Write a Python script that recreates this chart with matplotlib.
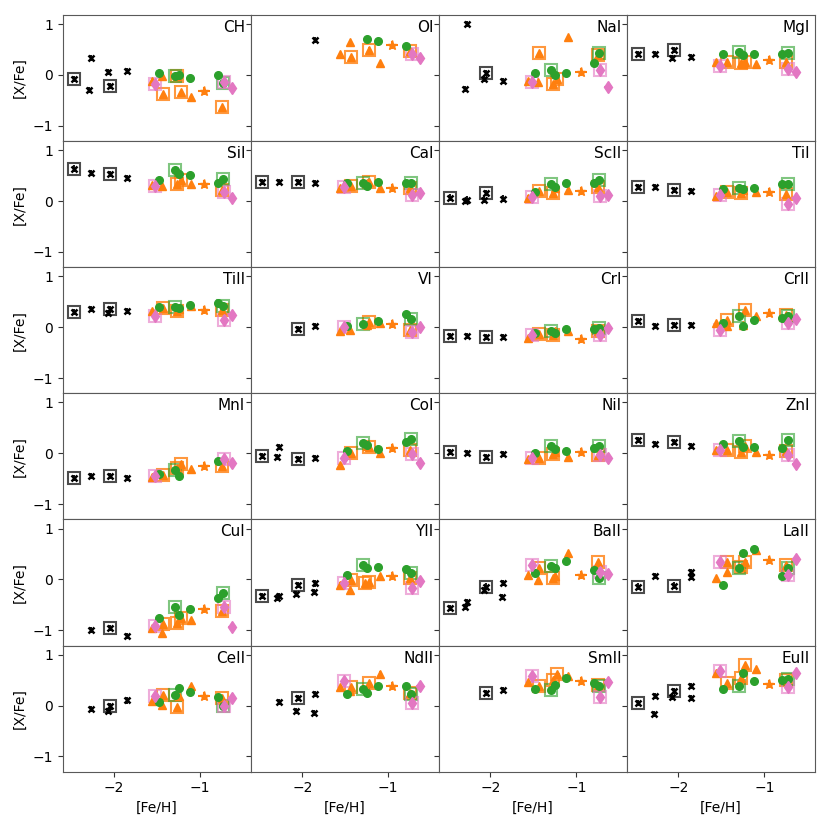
import numpy as np
import matplotlib
matplotlib.use('Agg')
import matplotlib.pyplot as plt

N = np.nan

elements = ['CH', 'OI', 'NaI', 'MgI', 'SiI', 'CaI', 'ScII', 'TiI',
            'TiII', 'VI', 'CrI', 'CrII', 'MnI', 'CoI', 'NiI', 'ZnI',
            'CuI', 'YII', 'BaII', 'LaII', 'CeII', 'NdII', 'SmII', 'EuII']

# metal-poor stars (black)
feh_blk = [-2.47, -2.27, -2.29, -2.07, -2.05, -1.85, -1.86]
box_blk = [True, False, False, False, True, False, False]
xfe_blk = [
    [-0.08, 0.33, -0.30, 0.05, -0.22, 0.08, N],
    [N, N, N, N, N, 0.69, N],
    [N, 1.00, -0.28, -0.08, 0.03, -0.12, N],
    [0.41, 0.41, N, 0.33, 0.49, 0.36, N],
    [0.64, 0.56, N, N, 0.53, 0.46, N],
    [0.37, 0.37, N, N, 0.37, 0.35, N],
    [0.07, 0.03, 0.00, 0.03, 0.15, 0.05, N],
    [0.28, 0.28, N, N, 0.22, 0.20, N],
    [0.30, 0.35, N, 0.28, 0.36, 0.31, N],
    [N, N, N, N, -0.03, 0.02, N],
    [-0.18, -0.18, N, N, -0.19, -0.19, N],
    [0.12, 0.02, N, N, 0.05, 0.05, N],
    [-0.49, -0.44, N, N, -0.44, -0.49, N],
    [-0.05, 0.13, -0.08, N, -0.11, -0.10, N],
    [0.02, 0.00, N, N, -0.07, -0.01, N],
    [0.27, 0.18, N, N, 0.23, 0.14, N],
    [N, -1.00, N, N, -0.96, -1.12, N],
    [-0.33, -0.33, -0.37, -0.29, -0.11, -0.08, -0.24],
    [-0.57, -0.44, -0.54, -0.21, -0.14, -0.07, -0.35],
    [-0.14, 0.07, N, N, -0.12, 0.15, 0.05],
    [N, -0.07, N, -0.11, -0.01, 0.10, N],
    [N, 0.07, N, -0.11, 0.15, 0.23, -0.14],
    [N, N, N, N, 0.25, 0.30, N],
    [0.05, 0.18, -0.16, 0.16, 0.28, 0.39, 0.15],
]

# orange triangles
feh_tri = [-1.56, -1.44, -1.43, -1.27, -1.22, -1.25, -1.10, -0.75]
box_tri = [False, False, True, True, True, False, False, True]
xfe_tri = [
    [-0.12, -0.03, -0.37, -0.03, -0.33, N, -0.44, -0.63],
    [0.41, 0.64, 0.35, N, 0.50, N, 0.23, 0.48],
    [-0.12, -0.14, 0.44, -0.18, -0.07, N, 0.75, 0.40],
    [0.26, N, 0.26, 0.24, 0.26, 0.21, 0.21, 0.25],
    [0.31, 0.29, N, 0.33, 0.42, N, 0.33, 0.22],
    [0.26, N, 0.29, N, 0.38, 0.36, 0.25, 0.26],
    [0.07, N, 0.20, 0.15, N, 0.25, 0.22, 0.28],
    [0.10, N, 0.18, 0.15, N, 0.22, 0.18, 0.13],
    [0.31, N, 0.38, 0.31, N, 0.36, 0.42, 0.33],
    [-0.08, -0.05, N, N, 0.10, 0.05, 0.08, -0.05],
    [-0.21, N, -0.13, -0.16, N, -0.07, -0.07, -0.07],
    [0.08, 0.02, 0.15, N, 0.33, 0.04, 0.22, 0.23],
    [-0.47, N, -0.42, -0.29, -0.21, N, -0.31, -0.24],
    [-0.23, N, 0.00, N, 0.12, 0.15, 0.00, 0.07],
    [-0.11, N, -0.10, -0.01, N, 0.02, -0.07, -0.03],
    [0.07, N, 0.07, 0.02, 0.15, N, 0.03, 0.05],
    [-0.96, -1.06, -0.88, -0.86, -0.75, N, -0.80, -0.62],
    [-0.10, -0.21, -0.01, -0.07, -0.05, N, 0.07, 0.02],
    [0.08, -0.01, 0.22, 0.03, N, 0.07, 0.51, 0.35],
    [0.02, 0.15, 0.35, 0.25, 0.35, N, 0.58, 0.29],
    [0.08, 0.02, 0.20, -0.03, N, 0.18, 0.39, 0.15],
    [0.36, 0.28, 0.36, N, 0.44, 0.31, 0.63, 0.25],
    [0.46, N, 0.38, 0.51, 0.62, N, 0.59, 0.40],
    [0.64, N, 0.44, 0.54, 0.80, N, 0.72, 0.51],
]

# orange star with x and y errors
feh_star = -0.95
xfe_star = [-0.31, 0.59, 0.05, 0.29, 0.33, 0.26, 0.20, 0.17,
            0.33, 0.07, -0.24, 0.28, -0.25, 0.10, 0.02, -0.03,
            -0.59, 0.07, 0.08, 0.38, 0.18, 0.38, 0.49, 0.43]

# green circles
feh_grn = [-1.48, -1.29, -1.25, -1.12, -0.79, -0.73]
box_grn = [False, True, False, False, False, True]
xfe_grn = [
    [0.03, -0.03, 0.00, -0.06, -0.01, -0.15],
    [N, N, 0.71, 0.66, 0.57, N],
    [0.03, 0.10, 0.00, 0.03, 0.24, 0.43],
    [0.41, 0.46, 0.40, 0.41, 0.41, 0.43],
    [0.41, 0.62, 0.54, 0.52, 0.36, 0.44],
    [0.35, 0.36, 0.30, 0.37, 0.35, 0.35],
    [0.18, 0.33, 0.28, 0.35, 0.35, 0.42],
    [0.23, 0.26, 0.23, 0.26, 0.33, 0.33],
    [0.39, 0.39, 0.38, 0.44, 0.48, 0.41],
    [0.03, 0.07, N, 0.13, 0.26, 0.16],
    [-0.11, -0.08, -0.11, -0.03, -0.03, -0.01],
    [0.08, 0.22, 0.02, 0.15, 0.18, 0.22],
    [-0.41, -0.32, -0.44, N, -0.16, N],
    [0.05, 0.20, 0.16, 0.08, 0.23, 0.29],
    [0.00, 0.15, 0.08, 0.05, 0.10, 0.14],
    [0.18, 0.25, 0.13, 0.12, 0.10, 0.26],
    [-0.76, -0.54, -0.70, -0.58, -0.36, -0.27],
    [0.08, 0.28, 0.23, 0.25, 0.20, 0.12],
    [0.12, 0.26, 0.23, 0.36, 0.18, 0.02],
    [-0.10, 0.22, 0.51, 0.59, 0.07, 0.22],
    [0.07, 0.20, 0.35, 0.26, 0.17, 0.00],
    [0.23, 0.33, 0.25, 0.39, 0.39, 0.23],
    [0.33, 0.31, 0.40, 0.54, 0.44, 0.38],
    [0.33, 0.38, 0.64, 0.49, 0.51, 0.52],
]

# pink diamonds
feh_pnk = [-1.52, -0.72, -0.63]
box_pnk = [True, True, False]
xfe_pnk = [
    [-0.18, -0.13, -0.26],
    [N, 0.41, 0.33],
    [-0.14, 0.10, -0.24],
    [0.18, 0.11, 0.05],
    [0.30, 0.18, 0.07],
    [0.28, 0.12, 0.16],
    [0.08, 0.10, 0.12],
    [0.12, -0.05, 0.07],
    [0.22, 0.15, 0.24],
    [0.00, -0.10, 0.00],
    [-0.16, -0.16, -0.01],
    [-0.05, 0.08, 0.16],
    [-0.45, -0.11, -0.20],
    [-0.10, -0.01, -0.20],
    [-0.09, -0.03, -0.10],
    [0.07, -0.03, -0.21],
    [-0.91, -0.55, -0.93],
    [-0.07, -0.16, -0.03],
    [0.29, 0.15, 0.10],
    [0.35, 0.08, 0.41],
    [0.18, -0.01, 0.15],
    [0.48, 0.05, 0.39],
    [0.59, 0.17, 0.46],
    [0.67, 0.36, 0.64],
]

plt.rcParams['axes.edgecolor'] = '0.35'
plt.rcParams['xtick.color'] = '0.2'
plt.rcParams['ytick.color'] = '0.2'
plt.rcParams['xtick.labelcolor'] = 'black'
plt.rcParams['ytick.labelcolor'] = 'black'
plt.rcParams['font.size'] = 10

fig, axes = plt.subplots(6, 4, figsize=(8.3, 8.3), sharex=True, sharey=True)
fig.subplots_adjust(left=0.0755, right=0.982, top=0.982, bottom=0.0703,
                    wspace=0, hspace=0)


def draw_group(ax, feh, vals, box, color, fmt, ms, yerr, box_alpha, **kw):
	feh = np.array(feh)
	vals = np.array(vals, dtype=float)
	ok = ~np.isnan(vals)
	ax.errorbar(feh[ok], vals[ok], yerr=yerr, fmt=fmt, color=color, ms=ms,
	            elinewidth=1.3, capsize=0, **kw)
	b = np.array(box) & ok
	ax.plot(feh[b], vals[b], 's', mfc='none', mec=color, ms=9, mew=1.5,
	        alpha=box_alpha)


for i, el in enumerate(elements):
	ax = axes[i // 4, i % 4]
	draw_group(ax, feh_blk, xfe_blk[i], box_blk, 'black', 'x', 4, 0.06, 0.7,
	           mew=1.8)
	draw_group(ax, feh_tri, xfe_tri[i], box_tri, '#ff7f0e', '^', 6, 0.04, 0.8)
	ax.errorbar([feh_star], [xfe_star[i]], xerr=0.07, yerr=0.08, fmt='*',
	            color='#ff7f0e', ms=6.5, elinewidth=1.5, capsize=0)
	draw_group(ax, feh_grn, xfe_grn[i], box_grn, '#2ca02c', 'o', 5.5, 0.04, 0.6)
	pv = np.array(xfe_pnk[i], dtype=float)
	draw_group(ax, feh_pnk[:2], pv[:2], box_pnk[:2], '#e377c2', 'd', 6, 0.05, 0.6)
	if not np.isnan(pv[2]):
		ax.errorbar([feh_pnk[2]], [pv[2]], xerr=0.05, yerr=0.08, fmt='d',
		            color='#e377c2', ms=6, elinewidth=1.5, capsize=0)
	ax.text(0.97, 0.96, el, transform=ax.transAxes, ha='right', va='top',
	        fontsize=11)
	if i % 4 == 0:
		ax.set_ylabel('[X/Fe]')
	if i // 4 == 5:
		ax.set_xlabel('[Fe/H]')

ax.set_xlim(-2.6, -0.41)
ax.set_ylim(-1.3, 1.18)
ax.set_xticks([-2, -1])
ax.set_yticks([-1, 0, 1])

plt.savefig('out.png', dpi=100)
